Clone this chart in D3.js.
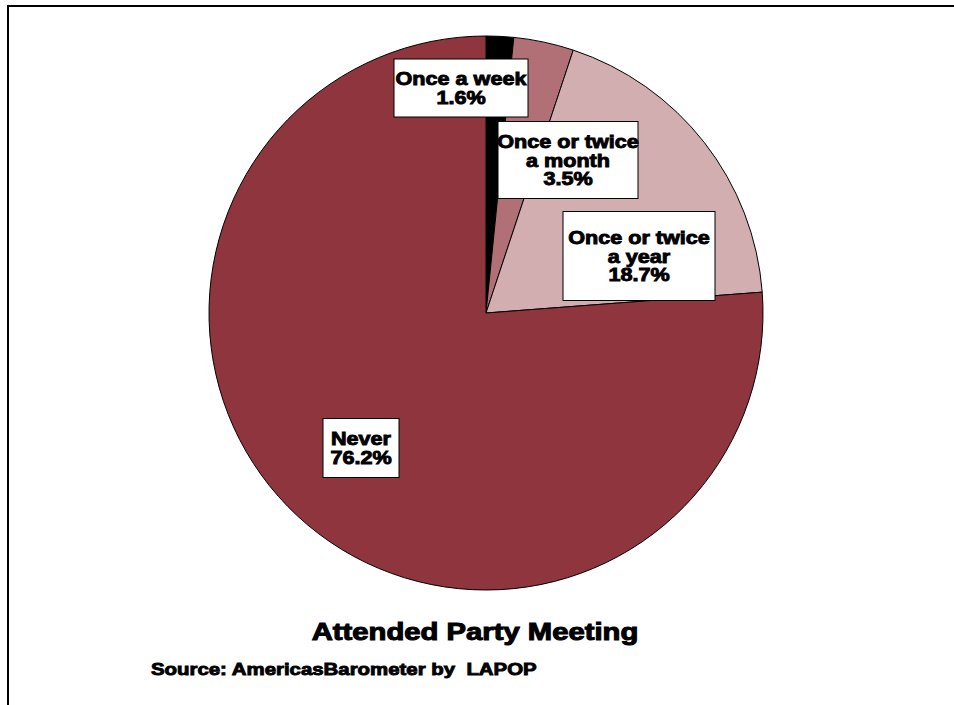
<!DOCTYPE html>
<html><head><meta charset="utf-8">
<script src="https://cdn.jsdelivr.net/npm/d3@7"></script>
<style>
html,body{margin:0;padding:0;background:#fff;}
svg text{font-family:"Liberation Sans",Arial,sans-serif;font-weight:bold;fill:#000;white-space:pre;}
</style></head>
<body>
<svg id="c" width="954" height="705"></svg>
<script>
// Data
const categories = ["Once a week", "Once or twice a month", "Once or twice a year", "Never"];
const values = [1.6, 3.5, 18.7, 76.2];
const labelLines = [["Once a week"], ["Once or twice", "a month"], ["Once or twice", "a year"], ["Never"]];
const colors = ["#000000", "#b07075", "#d3aeb1", "#8f353d"];
const title = "Attended Party Meeting";
const source = "Source: AmericasBarometer by  LAPOP";

// Layout
const cx = 486, cy = 313, R = 277;
const wide = 1.2; // horizontal stretch to mimic a heavy/wide typeface
const labelBoxes = [
  {dx: -25, dy: -225, w: 134, h: 58},
  {dx: 82, dy: -153, w: 140, h: 77},
  {dx: 153, dy: -57, w: 152, h: 89},
  {dx: -125, dy: 135, w: 76, h: 59}
];

const svg = d3.select("#c");

// frame
svg.append("path").attr("d", "M8,705 L8,6 L954,6").attr("fill", "none").attr("stroke", "#000").attr("stroke-width", 2);

const pie = d3.pie().sort(null).value(d => d)(values);
const arc = d3.arc().innerRadius(0).outerRadius(R);
const g = svg.append("g").attr("transform", `translate(${cx},${cy})`);
g.selectAll("path.slice").data(pie).join("path")
  .attr("class", "slice")
  .attr("d", arc)
  .attr("fill", (d, i) => colors[i])
  .attr("stroke", "#000").attr("stroke-width", 1);

const fmt = d3.format(".1f");
const lab = g.selectAll("g.lab").data(pie).join("g").attr("class", "lab")
  .attr("transform", (d, i) => `translate(${labelBoxes[i].dx},${labelBoxes[i].dy})`);
lab.append("rect")
  .attr("x", (d, i) => -labelBoxes[i].w / 2)
  .attr("y", (d, i) => -labelBoxes[i].h / 2)
  .attr("width", (d, i) => labelBoxes[i].w)
  .attr("height", (d, i) => labelBoxes[i].h)
  .attr("fill", "#fff").attr("stroke", "#000").attr("stroke-width", 1);
lab.each(function(d, i) {
  const lines = labelLines[i].concat([fmt(values[i]) + "%"]);
  const lh = 19;
  const t = d3.select(this).append("text").attr("text-anchor", "middle")
    .attr("transform", `scale(${wide},1)`)
    .style("font-size", "18px").attr("stroke", "#000").attr("stroke-width", 0.9);
  lines.forEach((ln, k) => {
    t.append("tspan").attr("x", 0)
      .attr("y", (k - (lines.length - 1) / 2) * lh + 6.5)
      .text(ln);
  });
});

svg.append("text").attr("text-anchor", "middle")
  .attr("transform", `translate(475,640) scale(${wide * 1.06},1)`)
  .style("font-size", "23px").attr("stroke", "#000").attr("stroke-width", 1).text(title);
svg.append("text").attr("text-anchor", "start")
  .attr("transform", `translate(151,675) scale(${wide},1)`)
  .style("font-size", "17px").attr("stroke", "#000").attr("stroke-width", 0.9).text(source);
</script>
</body></html>
